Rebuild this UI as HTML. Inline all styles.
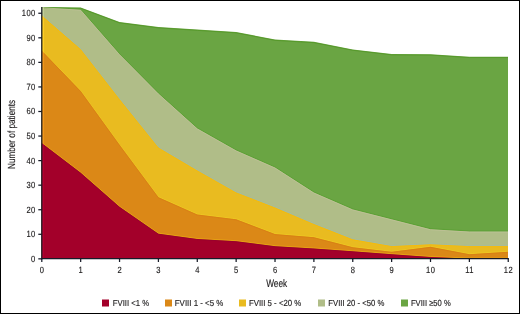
<!DOCTYPE html>
<html><head><meta charset="utf-8">
<style>
html,body{margin:0;padding:0;background:#fff;}
body{width:520px;height:314px;overflow:hidden;}
svg{display:block;}
text{text-rendering:geometricPrecision;font-family:"Liberation Sans",Arial,sans-serif;fill:#1e1c1d;stroke:#1e1c1d;stroke-width:0.15px;}
</style></head><body>
<svg width="520" height="314" viewBox="0 0 520 314">
<defs>
<clipPath id="plotclip"><polygon points="41.70,7.00 80.67,7.40 119.54,22.00 158.41,27.00 197.28,29.50 236.15,32.00 275.02,39.50 313.89,41.80 352.76,49.40 391.63,54.00 430.50,54.20 469.37,56.70 508.00,56.70 508.00,258.60 41.70,258.60"/></clipPath>
<clipPath id="axclip"><rect x="42" y="0" width="2" height="260"/></clipPath>
</defs>
<rect x="0" y="0" width="520" height="314" fill="#fff"/>
<polygon fill="#6aa543" points="41.70,7.00 80.67,7.40 119.54,22.00 158.41,27.00 197.28,29.50 236.15,32.00 275.02,39.50 313.89,41.80 352.76,49.40 391.63,54.00 430.50,54.20 469.37,56.70 508.00,56.70 508.00,258.60 41.70,258.60"/>
<polygon fill="#b0bd88" points="41.70,7.20 80.67,9.70 119.54,54.20 158.41,93.50 197.28,128.40 236.15,150.40 275.02,167.50 313.89,192.50 352.76,209.40 391.63,219.30 430.50,229.20 469.37,231.50 508.00,231.50 508.00,258.60 41.70,258.60"/>
<polygon fill="#e9bb20" points="41.70,15.30 80.67,49.10 119.54,99.10 158.41,147.50 197.28,170.40 236.15,192.40 275.02,207.50 313.89,224.00 352.76,239.30 391.63,246.10 430.50,244.30 469.37,246.10 508.00,246.10 508.00,258.60 41.70,258.60"/>
<polygon fill="#db8817" points="41.70,50.50 80.67,91.00 119.54,144.80 158.41,197.20 197.28,214.50 236.15,219.30 275.02,234.10 313.89,237.20 352.76,247.20 391.63,251.80 430.50,246.80 469.37,254.20 508.00,251.80 508.00,258.60 41.70,258.60"/>
<polygon fill="#a3002a" points="41.70,143.00 80.67,172.70 119.54,206.80 158.41,233.70 197.28,239.00 236.15,241.20 275.02,246.20 313.89,248.50 352.76,251.30 391.63,254.20 430.50,257.00 469.37,258.60 508.00,258.60 508.00,258.60 41.70,258.60"/>
<g fill="none" clip-path="url(#plotclip)"><polyline stroke="#57992b" stroke-width="1" points="41.70,7.85 80.67,8.25 119.54,22.85 158.41,27.85 197.28,30.35 236.15,32.85 275.02,40.35 313.89,42.65 352.76,50.25 391.63,54.85 430.50,55.05 469.37,57.55 508.00,57.55"/><polyline stroke="#5ba034" stroke-width="0.8" points="41.70,6.65 80.67,9.15 119.54,53.65 158.41,92.95 197.28,127.85 236.15,149.85 275.02,166.95 313.89,191.95 352.76,208.85 391.63,218.75 430.50,228.65 469.37,230.95 508.00,230.95"/><polyline stroke="#bfc297" stroke-width="0.8" points="41.70,7.75 80.67,10.25 119.54,54.75 158.41,94.05 197.28,128.95 236.15,150.95 275.02,168.05 313.89,193.05 352.76,209.95 391.63,219.85 430.50,229.75 469.37,232.05 508.00,232.05"/><polyline stroke="#a3bd9f" stroke-width="0.8" points="41.70,14.75 80.67,48.55 119.54,98.55 158.41,146.95 197.28,169.85 236.15,191.85 275.02,206.95 313.89,223.45 352.76,238.75 391.63,245.55 430.50,243.75 469.37,245.55 508.00,245.55"/><polyline stroke="#f6bb09" stroke-width="0.8" points="41.70,15.85 80.67,49.65 119.54,99.65 158.41,148.05 197.28,170.95 236.15,192.95 275.02,208.05 313.89,224.55 352.76,239.85 391.63,246.65 430.50,244.85 469.37,246.65 508.00,246.65"/><polyline stroke="#ecc622" stroke-width="0.8" points="41.70,49.95 80.67,90.45 119.54,144.25 158.41,196.65 197.28,213.95 236.15,218.75 275.02,233.55 313.89,236.65 352.76,246.65 391.63,251.25 430.50,246.25 469.37,253.65 508.00,251.25"/><polyline stroke="#d87d15" stroke-width="0.8" points="41.70,51.05 80.67,91.55 119.54,145.35 158.41,197.75 197.28,215.05 236.15,219.85 275.02,234.65 313.89,237.75 352.76,247.75 391.63,252.35 430.50,247.35 469.37,254.75 508.00,252.35"/><polyline stroke="#e7a613" stroke-width="0.8" points="41.70,142.45 80.67,172.15 119.54,206.25 158.41,233.15 197.28,238.45 236.15,240.65 275.02,245.65 313.89,247.95 352.76,250.75 391.63,253.65 430.50,256.45 469.37,258.05 508.00,258.05"/><polyline stroke="#97002e" stroke-width="0.8" points="41.70,143.55 80.67,173.25 119.54,207.35 158.41,234.25 197.28,239.55 236.15,241.75 275.02,246.75 313.89,249.05 352.76,251.85 391.63,254.75 430.50,257.55 469.37,259.15 508.00,259.15"/></g>
<g clip-path="url(#axclip)"><polygon fill="#75b64a" points="41.70,7.00 80.67,7.40 119.54,22.00 158.41,27.00 197.28,29.50 236.15,32.00 275.02,39.50 313.89,41.80 352.76,49.40 391.63,54.00 430.50,54.20 469.37,56.70 508.00,56.70 508.00,258.60 41.70,258.60"/><polygon fill="#c2d096" points="41.70,7.20 80.67,9.70 119.54,54.20 158.41,93.50 197.28,128.40 236.15,150.40 275.02,167.50 313.89,192.50 352.76,209.40 391.63,219.30 430.50,229.20 469.37,231.50 508.00,231.50 508.00,258.60 41.70,258.60"/><polygon fill="#ffce23" points="41.70,15.30 80.67,49.10 119.54,99.10 158.41,147.50 197.28,170.40 236.15,192.40 275.02,207.50 313.89,224.00 352.76,239.30 391.63,246.10 430.50,244.30 469.37,246.10 508.00,246.10 508.00,258.60 41.70,258.60"/><polygon fill="#f19619" points="41.70,50.50 80.67,91.00 119.54,144.80 158.41,197.20 197.28,214.50 236.15,219.30 275.02,234.10 313.89,237.20 352.76,247.20 391.63,251.80 430.50,246.80 469.37,254.20 508.00,251.80 508.00,258.60 41.70,258.60"/><polygon fill="#b3002e" points="41.70,143.00 80.67,172.70 119.54,206.80 158.41,233.70 197.28,239.00 236.15,241.20 275.02,246.20 313.89,248.50 352.76,251.30 391.63,254.20 430.50,257.00 469.37,258.60 508.00,258.60 508.00,258.60 41.70,258.60"/></g>
<g stroke="#171b28" stroke-width="1.25" fill="none">
<line x1="41.8" y1="7" x2="41.8" y2="259.2"/>
<line x1="41.2" y1="258.6" x2="508.8" y2="258.6"/>
<line x1="38.3" y1="258.85" x2="41.8" y2="258.85"/><line x1="38.3" y1="234.29" x2="41.8" y2="234.29"/><line x1="38.3" y1="209.73" x2="41.8" y2="209.73"/><line x1="38.3" y1="185.17" x2="41.8" y2="185.17"/><line x1="38.3" y1="160.61" x2="41.8" y2="160.61"/><line x1="38.3" y1="136.05" x2="41.8" y2="136.05"/><line x1="38.3" y1="111.49" x2="41.8" y2="111.49"/><line x1="38.3" y1="86.93" x2="41.8" y2="86.93"/><line x1="38.3" y1="62.37" x2="41.8" y2="62.37"/><line x1="38.3" y1="37.81" x2="41.8" y2="37.81"/><line x1="38.3" y1="13.25" x2="41.8" y2="13.25"/>
<line x1="41.80" y1="258.6" x2="41.80" y2="262"/><line x1="80.67" y1="258.6" x2="80.67" y2="262"/><line x1="119.54" y1="258.6" x2="119.54" y2="262"/><line x1="158.41" y1="258.6" x2="158.41" y2="262"/><line x1="197.28" y1="258.6" x2="197.28" y2="262"/><line x1="236.15" y1="258.6" x2="236.15" y2="262"/><line x1="275.02" y1="258.6" x2="275.02" y2="262"/><line x1="313.89" y1="258.6" x2="313.89" y2="262"/><line x1="352.76" y1="258.6" x2="352.76" y2="262"/><line x1="391.63" y1="258.6" x2="391.63" y2="262"/><line x1="430.50" y1="258.6" x2="430.50" y2="262"/><line x1="469.37" y1="258.6" x2="469.37" y2="262"/><line x1="508.24" y1="258.6" x2="508.24" y2="262"/>
</g>
<g font-size="9.0" letter-spacing="0.5">
<text transform="translate(35.7 261.75) scale(0.84 1)" text-anchor="end">0</text><text transform="translate(35.7 237.19) scale(0.84 1)" text-anchor="end">10</text><text transform="translate(35.7 212.63) scale(0.84 1)" text-anchor="end">20</text><text transform="translate(35.7 188.07) scale(0.84 1)" text-anchor="end">30</text><text transform="translate(35.7 163.51) scale(0.84 1)" text-anchor="end">40</text><text transform="translate(35.7 138.95) scale(0.84 1)" text-anchor="end">50</text><text transform="translate(35.7 114.39) scale(0.84 1)" text-anchor="end">60</text><text transform="translate(35.7 89.83) scale(0.84 1)" text-anchor="end">70</text><text transform="translate(35.7 65.27) scale(0.84 1)" text-anchor="end">80</text><text transform="translate(35.7 40.71) scale(0.84 1)" text-anchor="end">90</text><text transform="translate(35.7 16.15) scale(0.84 1)" text-anchor="end">100</text>
<text transform="translate(42.00 272.9) scale(0.84 1)" text-anchor="middle">0</text><text transform="translate(80.87 272.9) scale(0.84 1)" text-anchor="middle">1</text><text transform="translate(119.74 272.9) scale(0.84 1)" text-anchor="middle">2</text><text transform="translate(158.61 272.9) scale(0.84 1)" text-anchor="middle">3</text><text transform="translate(197.48 272.9) scale(0.84 1)" text-anchor="middle">4</text><text transform="translate(236.35 272.9) scale(0.84 1)" text-anchor="middle">5</text><text transform="translate(275.22 272.9) scale(0.84 1)" text-anchor="middle">6</text><text transform="translate(314.09 272.9) scale(0.84 1)" text-anchor="middle">7</text><text transform="translate(352.96 272.9) scale(0.84 1)" text-anchor="middle">8</text><text transform="translate(391.83 272.9) scale(0.84 1)" text-anchor="middle">9</text><text transform="translate(430.70 272.9) scale(0.84 1)" text-anchor="middle">10</text><text transform="translate(469.57 272.9) scale(0.84 1)" text-anchor="middle">11</text><text transform="translate(508.44 272.9) scale(0.84 1)" text-anchor="middle">12</text>
</g>
<text transform="translate(276.7 287.1) scale(0.765 1)" font-size="10.8" text-anchor="middle">Week</text>
<text transform="translate(15.3 134.45) rotate(-90) scale(0.795 1)" font-size="10.3" text-anchor="middle">Number of patients</text>
<g font-size="8.8">
<rect x="102" y="299.5" width="7" height="7" fill="#a3002a"/><text transform="translate(112.76 305.5) scale(0.878 1)">FVIII &lt;1 %</text><rect x="165" y="299.5" width="7" height="7" fill="#db8817"/><text transform="translate(174.8 305.5) scale(0.8963 1)">FVIII 1 - &lt;5 %</text><rect x="239" y="299.5" width="7" height="7" fill="#e9bb20"/><text transform="translate(248.88 305.5) scale(0.89 1)">FVIII 5 - &lt;20 %</text><rect x="318" y="299.5" width="7" height="7" fill="#b0bd88"/><text transform="translate(328.26 305.5) scale(0.8785 1)">FVIII 20 - &lt;50 %</text><rect x="401" y="299.5" width="7" height="7" fill="#6aa543"/><text transform="translate(410.92 305.5) scale(0.8669 1)">FVIII ≥50 %</text>
</g>
<rect x="0.5" y="0.5" width="519" height="313" fill="none" stroke="#000" stroke-width="1"/>
</svg>
</body></html>
